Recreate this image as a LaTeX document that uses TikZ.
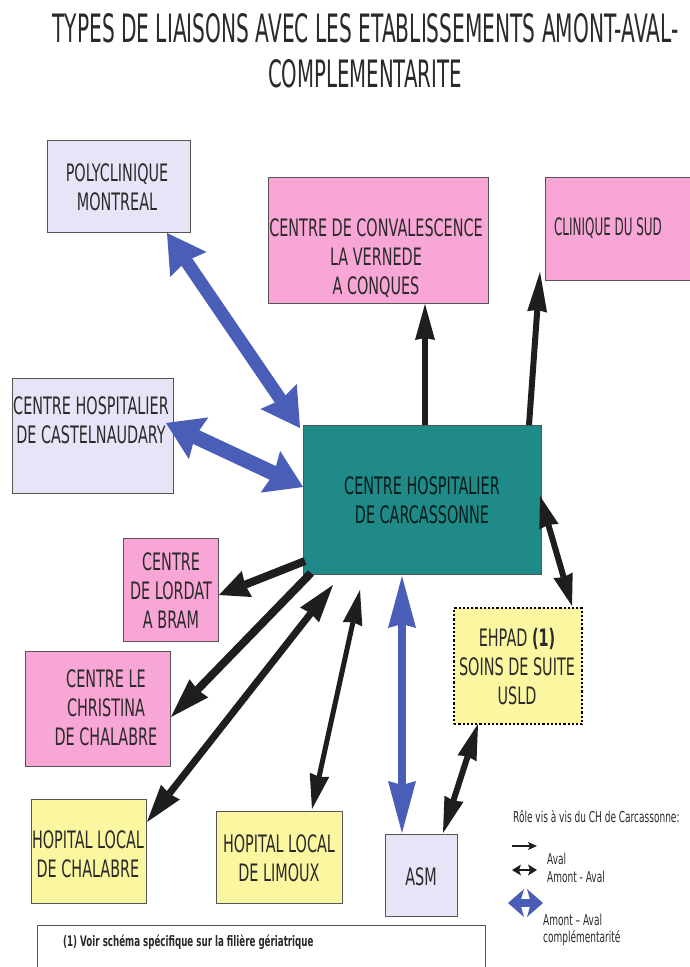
\documentclass[tikz,border=0pt]{standalone}
\usepackage{fontspec}
\usepackage{graphicx}
\usetikzlibrary{arrows.meta}
\newfontfamily\cf[FakeStretch=0.6]{DejaVu Sans}
\definecolor{lav}{HTML}{E8E4F8}
\definecolor{pnk}{HTML}{F7A6D5}
\definecolor{yel}{HTML}{FAF7A0}
\definecolor{teal2}{HTML}{1F8A87}
\definecolor{ab}{HTML}{4A5EB8}
\definecolor{ak}{HTML}{1E1E1E}
\definecolor{bl}{HTML}{555555}
\definecolor{tc}{HTML}{2A2A2A}
\tikzset{
  box/.style={draw=bl, line width=0.9pt, rectangle, inner sep=0pt, anchor=north west},
  txt/.style={font=\cf\fontsize{24}{29}\selectfont, text=tc, align=center, inner sep=0pt},
  ttl/.style={font=\cf\fontsize{37}{40}\selectfont, text=tc, inner sep=0pt},
  leg/.style={font=\cf\fontsize{15}{17}\selectfont, text=tc, inner sep=0pt, align=left},
  kone/.style n args={3}{draw=ak, line width=#1, -{Stealth[length=#2,width=#3,inset=2pt,line width=0pt]}},
  ktwo/.style n args={3}{draw=ak, line width=#1, {Stealth[length=#2,width=#3,inset=2pt,line width=0pt]}-{Stealth[length=#2,width=#3,inset=2pt,line width=0pt]}},
  btwo/.style n args={3}{draw=ab, line width=#1, {Stealth[length=#2,width=#3,inset=4pt,line width=0pt]}-{Stealth[length=#2,width=#3,inset=4pt,line width=0pt]}},
}
\begin{document}
\begin{tikzpicture}[x=1pt,y=-1pt]
\fill[white] (0,0) rectangle (689,967);
\path[use as bounding box] (0,0) rectangle (689,967);

% title
\node[ttl, anchor=base] (title1) at (365.5,42) {\resizebox{626pt}{29pt}{TYPES DE LIAISONS AVEC LES ETABLISSEMENTS AMONT-AVAL-}};
\node[ttl, anchor=base] (title2) at (365,87) {\resizebox{194pt}{28pt}{COMPLEMENTARITE}};

% boxes
\node[box, fill=lav, minimum width=143pt, minimum height=92pt] (poly) at (47,140) {};
\node[box, fill=pnk, minimum width=220pt, minimum height=126pt] (conv) at (268,177) {};
\node[box, fill=pnk, minimum width=155pt, minimum height=103pt] (sud) at (545,177) {};
\node[box, fill=lav, minimum width=161pt, minimum height=115pt] (cast) at (12,378) {};
\node[box, fill=teal2, minimum width=238pt, minimum height=149pt] (carc) at (303,425) {};
\node[box, fill=pnk, minimum width=95pt, minimum height=103pt] (lord) at (123,538) {};
\node[box, fill=pnk, minimum width=145pt, minimum height=115pt] (chri) at (25,651) {};
\node[box, fill=yel, minimum width=115pt, minimum height=104pt] (hcha) at (31,799) {};
\node[box, fill=yel, minimum width=126pt, minimum height=92pt] (limo) at (216,811) {};
\node[box, fill=lav, minimum width=72pt, minimum height=82pt] (asm) at (385,834) {};
\node[box, fill=yel, draw=black, line width=2.2pt, dash pattern=on 2.2pt off 2pt, minimum width=128pt, minimum height=116pt] (ehpad) at (453,607) {};
\node[box, fill=white, draw=bl, minimum width=448pt, minimum height=70pt] (foot) at (37,925) {};

% texts
\node[txt] (polyT) at (117,187) {POLYCLINIQUE\\MONTREAL};
\node[txt] (convT) at (376,258) {CENTRE DE CONVALESCENCE\\LA VERNEDE\\A CONQUES};
\node[txt] (sudT) at (608,228) {\scalebox{0.83}[1]{CLINIQUE DU SUD}};
\node[txt] (castT) at (91,420) {CENTRE HOSPITALIER\\DE CASTELNAUDARY};
\node[txt, text=black!80!teal2] (carcT) at (422,500) {CENTRE HOSPITALIER\\DE CARCASSONNE};
\node[txt] (lordT) at (171,591) {CENTRE\\DE LORDAT\\A BRAM};
\node[txt] (chriT) at (106,708) {CENTRE LE\\CHRISTINA\\DE CHALABRE};
\node[txt] (hchaT) at (88,854) {HOPITAL LOCAL\\DE CHALABRE};
\node[txt] (limoT) at (279,858) {HOPITAL LOCAL\\DE LIMOUX};
\node[txt] (asmT) at (421,877) {ASM};
\node[txt] (ehpadT) at (517,667) {EHPAD \textbf{(1)}\\SOINS DE SUITE\\USLD};
\node[font=\cf\bfseries\fontsize{14.5}{18}\selectfont, text=tc, inner sep=0pt, anchor=west] (footT) at (63,942) {(1) Voir schéma spécifique sur la filière gériatrique};

% legend texts
\node[leg, anchor=west] (legT) at (513,817) {Rôle vis à vis du CH de Carcassonne:};
\node[leg, anchor=west] (avalT) at (547,859) {Aval};
\node[leg, anchor=west] (amavT) at (547,877) {Amont - Aval};
\node[leg, anchor=west] (compT) at (543,930) {Amont – Aval\\complémentarité};

% connector end points
\coordinate (b1a) at (167,233); \coordinate (b1b) at (300,428);
\coordinate (b2a) at (166,423); \coordinate (b2b) at (303,487);
\coordinate (b3a) at (402,576); \coordinate (b3b) at (402,833);
\coordinate (k1a) at (425,425); \coordinate (k1b) at (425,304);
\coordinate (k2a) at (529,425); \coordinate (k2b) at (540,272);
\coordinate (k3a) at (540,496); \coordinate (k3b) at (572,606);
\coordinate (k4a) at (478,724); \coordinate (k4b) at (443,833);
\coordinate (k5a) at (305,561); \coordinate (k5b) at (219,595);
\coordinate (k6a) at (311,573); \coordinate (k6b) at (171,717);
\coordinate (k7a) at (333,585); \coordinate (k7b) at (147,822);
\coordinate (k8a) at (360,590); \coordinate (k8b) at (312,809);
\coordinate (l1a) at (512,846); \coordinate (l1b) at (537,846);
\coordinate (l2a) at (512,870); \coordinate (l2b) at (537,870);
\coordinate (l3a) at (508,903); \coordinate (l3b) at (543,903);

% blue arrows (amont-aval complementarite)
\draw[btwo={13pt}{38pt}{44pt}] (b1a) -- (b1b);
\draw[btwo={15pt}{36pt}{46pt}] (b2a) -- (b2b);
\draw[btwo={8pt}{52pt}{28pt}] (b3a) -- (b3b);

% black arrows
\draw[kone={6pt}{36pt}{20pt}] (k1a) -- (k1b);
\draw[kone={6pt}{40pt}{20pt}] (k2a) -- (k2b);
\draw[ktwo={6pt}{32pt}{20pt}] (k3a) -- (k3b);
\draw[ktwo={6pt}{36pt}{20pt}] (k4a) -- (k4b);
\draw[kone={8pt}{30pt}{28pt}] (k5a) -- (k5b);
\draw[kone={8pt}{40pt}{26pt}] (k6a) -- (k6b);
\draw[ktwo={7pt}{38pt}{24pt}] (k7a) -- (k7b);
\draw[ktwo={5pt}{35pt}{20pt}] (k8a) -- (k8b);

% legend arrows
\draw[kone={1.5pt}{9pt}{8pt}] (l1a) -- (l1b);
\draw[ktwo={2pt}{9pt}{11pt}] (l2a) -- (l2b);
\draw[btwo={8pt}{16pt}{28pt}] (l3a) -- (l3b);
\end{tikzpicture}
\end{document}
